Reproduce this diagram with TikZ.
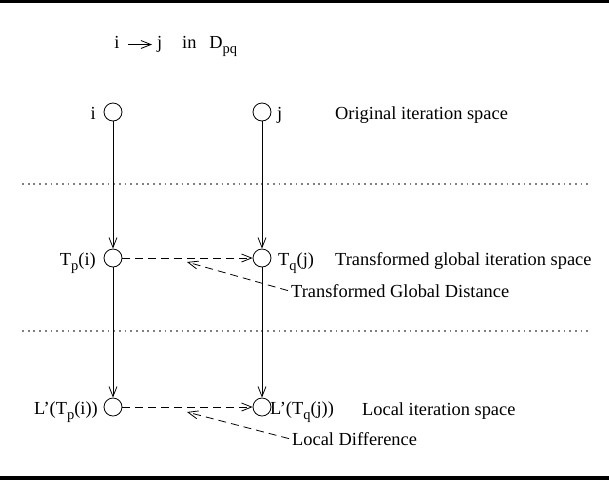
\documentclass[tikz,border=0pt]{standalone}
\usepackage{fontspec}
\setmainfont{Liberation Serif}
\usetikzlibrary{arrows.meta}
\newcommand{\lowsub}[1]{\raisebox{-0.32em}{\fontsize{14.5}{15}\selectfont #1}}

\begin{document}
\begin{tikzpicture}[
    x=1pt, y=-1pt,
    every node/.style={font=\fontsize{18.4}{22}\selectfont, inner sep=0pt},
    vtx/.style={circle, draw, line width=0.8pt, minimum size=18pt, inner sep=0pt},
    arrow/.style={-{Straight Barb[length=10pt, width=8pt]}, line width=0.8pt},
    darrow/.style={arrow, dash pattern=on 8pt off 5pt},
    sepline/.style={gray, line width=1.6pt, dash pattern=on 1.8pt off 3.9pt},
    rule/.style={line width=3pt}
]
\useasboundingbox (0,0) rectangle (609,480);

% ============ RULES ============
\draw[rule] (0,1.3) -- (609,1.3);
\draw[rule, line width=4pt] (0,477.5) -- (609,477.5);

% ============ TITLE ============
\node[anchor=base] (ti) at (117,48) {i};
\node[anchor=base west] (tj) at (157,48) {j};
\node[anchor=base west] (tin) at (182,48) {in\hspace{0.7em}D\lowsub{pq}};
\draw[arrow] ([xshift=8pt, yshift=3.5pt]ti.base east) -- ([xshift=-5pt, yshift=3.5pt]tj.base west);

% ============ ITERATION POINTS ============
\node[vtx] (i) at (113,112) {};
\node[vtx] (j) at (262,112) {};
\node[vtx] (tpi) at (113,258) {};
\node[vtx] (tqj) at (262,258) {};
\node[vtx] (lpi) at (113,407) {};
\node[vtx] (lqj) at (262,407) {};

% point labels
\node[anchor=base east] (li) at (96,119) {i};
\node[anchor=base west] (lj) at (277,119) {j};
\node[anchor=base east] (ltpi) at (96,265) {T\lowsub{p}(i)};
\node[anchor=base west] (ltqj) at (278,265) {T\lowsub{q}(j)};
\node[anchor=base east] (llpi) at (98,414) {L'(T\lowsub{p}(i))};
\node[anchor=base west] (llqj) at (270,414) {L'(T\lowsub{q}(j))};

% space labels
\node[anchor=base west] (orig) at (335,119) {Original iteration space};
\node[anchor=base west] (glob) at (335,265) {Transformed global iteration space};
\node[anchor=base west] (loc) at (362,415) {Local iteration space};

% ============ SEPARATORS ============
\coordinate (s1a) at (22,184);
\coordinate (s1b) at (590,184);
\coordinate (s2a) at (22,331);
\coordinate (s2b) at (590,331);
\draw[sepline] (s1a) -- (s1b);
\draw[sepline] (s2a) -- (s2b);

% ============ MAPPINGS ============
\draw[arrow] (i) -- (tpi);
\draw[arrow] (tpi) -- (lpi);
\draw[arrow] (j) -- (tqj);
\draw[arrow] (tqj) -- (lqj);

% distances
\draw[darrow] (tpi) -- (tqj);
\draw[darrow] (lpi) -- (lqj);

% annotations
\node[anchor=base west] (gdist) at (291,297) {Transformed Global Distance};
\node[anchor=base west] (ldiff) at (292,445) {Local Difference};
\coordinate (gtip) at (187,262);
\coordinate (ltip) at (187,412);
\draw[darrow] ([xshift=-3pt]gdist.west) -- (gtip);
\draw[darrow] ([xshift=-3pt]ldiff.west) -- (ltip);

\end{tikzpicture}
\end{document}
